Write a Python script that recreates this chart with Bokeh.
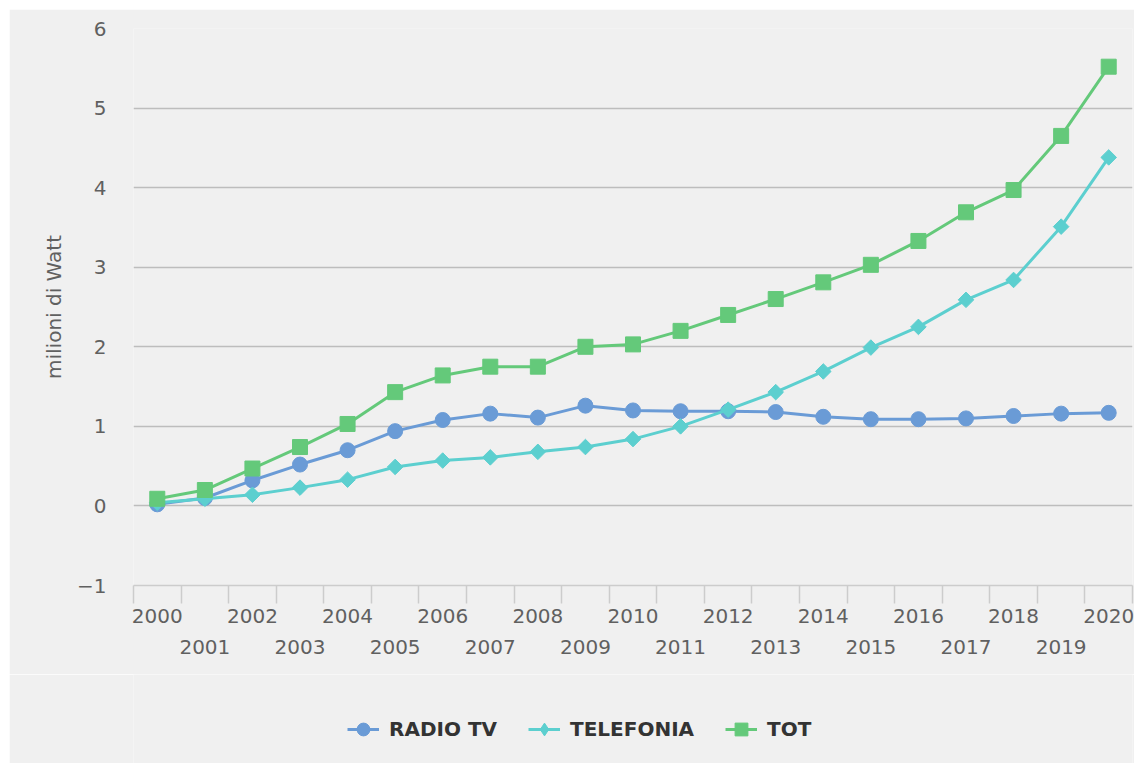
import numpy as np
from bokeh.plotting import figure
from bokeh.layouts import column
from bokeh.models import (FixedTicker, LinearAxis, Legend, LegendItem,
                          CustomJSTickFormatter, Range1d)
from bokeh.embed import file_html
from bokeh.resources import INLINE

# ---- data ----
years = [str(y) for y in range(2000, 2021)]
radio_tv = [0.02, 0.10, 0.32, 0.52, 0.70, 0.94, 1.08, 1.16, 1.11, 1.26, 1.20,
            1.19, 1.19, 1.18, 1.12, 1.09, 1.09, 1.10, 1.13, 1.16, 1.17]
telefonia = [0.04, 0.09, 0.14, 0.23, 0.33, 0.49, 0.57, 0.61, 0.68, 0.74, 0.84,
             1.00, 1.21, 1.43, 1.69, 1.99, 2.25, 2.59, 2.84, 3.51, 4.38]
tot = [0.09, 0.20, 0.47, 0.74, 1.03, 1.43, 1.64, 1.75, 1.75, 2.00, 2.03,
       2.20, 2.40, 2.60, 2.81, 3.03, 3.33, 3.69, 3.97, 4.65, 5.52]
y_ticks = [-1, 0, 1, 2, 3, 4, 5, 6]
series_names = ["RADIO TV", "TELEFONIA", "TOT"]

FONT = "DejaVu Sans"
BG = "#f0f0f0"
LABEL_COLOR = "#606060"

x = list(range(len(years)))

p = figure(width=1125, height=665, output_backend="svg", toolbar_location=None,
           x_range=Range1d(-0.5, len(years) - 0.5), y_range=Range1d(y_ticks[0], y_ticks[-1]),
           min_border_left=124, min_border_top=19, min_border_right=2,
           min_border_bottom=89,
           background_fill_color=BG, border_fill_color=BG, outline_line_color=None)
p.margin = (9, 0, 0, 9)

# ---- x axis: boundary tick marks ----
ax_a = p.xaxis[0]
ax_a.ticker = FixedTicker(ticks=[i - 0.5 for i in range(len(years) + 1)])
ax_a.formatter = CustomJSTickFormatter(code="return ''")
ax_a.major_tick_out = 18
ax_a.major_tick_in = 0
ax_a.minor_tick_line_color = None
ax_a.major_label_text_font_size = "0px"
ax_a.major_label_standoff = 0
ax_a.axis_line_color = "#cccccc"
ax_a.axis_line_width = 1.5
ax_a.major_tick_line_color = "#cccccc"
ax_a.major_tick_line_width = 1.5

year_fmt = CustomJSTickFormatter(args=dict(years=years),
                                 code="return years[Math.round(tick)]")


def label_axis(ticks, standoff):
    ax = LinearAxis(ticker=FixedTicker(ticks=ticks), formatter=year_fmt)
    ax.axis_line_color = None
    ax.major_tick_line_color = None
    ax.minor_tick_line_color = None
    ax.major_tick_out = 0
    ax.major_tick_in = 0
    ax.major_label_standoff = standoff
    ax.major_label_text_font = FONT
    ax.major_label_text_font_size = "20px"
    ax.major_label_text_color = LABEL_COLOR
    return ax


ax_b = label_axis([i for i in x if i % 2 == 0], 5)
ax_c = label_axis([i for i in x if i % 2 == 1], 14)
p.add_layout(ax_b, "below")
p.add_layout(ax_c, "below")

# ---- y axis ----
p.yaxis.ticker = FixedTicker(ticks=y_ticks)
p.yaxis.formatter = CustomJSTickFormatter(
    code="return tick < 0 ? '\u2212' + Math.abs(tick) : String(tick)")
p.yaxis.axis_line_color = None
p.yaxis.major_tick_line_color = None
p.yaxis.minor_tick_line_color = None
p.yaxis.major_label_standoff = 21
p.yaxis.major_label_text_font = FONT
p.yaxis.major_label_text_font_size = "20px"
p.yaxis.major_label_text_color = LABEL_COLOR
p.yaxis.axis_label = "milioni di Watt"
p.yaxis.axis_label_text_font = FONT
p.yaxis.axis_label_text_font_size = "20px"
p.yaxis.axis_label_text_font_style = "normal"
p.yaxis.axis_label_text_color = LABEL_COLOR
p.yaxis.axis_label_standoff = 8

p.xgrid.visible = False
p.ygrid.ticker = FixedTicker(ticks=y_ticks)
p.ygrid.grid_line_color = "#bdbdbd"
p.ygrid.grid_line_width = 1.5

# ---- series ----
styles = [("#6a9bd6", "circle", 15, 0.0, "circle"),
          ("#5ccfcf", "square", 11, np.pi / 4, "diamond"),
          ("#64c97a", "square", 15, 0.0, "square")]
all_vals = [radio_tv, telefonia, tot]
for vals, (color, marker, size, angle, _) in zip(all_vals, styles):
    p.line(x, vals, line_color=color, line_width=3)
    p.scatter(x, vals, marker=marker, size=size, angle=angle,
              fill_color=color, line_color=color)

# ---- legend strip (same series, kept out of its view; only the legend shows) ----
p2 = figure(width=1125, height=89, output_backend="svg", toolbar_location=None,
            x_range=Range1d(1000, 1001), y_range=Range1d(1000, 1001),
            min_border=0, background_fill_color=BG, background_fill_alpha=1,
            border_fill_color=BG, outline_line_color=None)
p2.margin = (0, 0, 0, 9)
p2.xaxis.visible = False
p2.yaxis.visible = False
p2.xgrid.visible = False
p2.ygrid.visible = False
items = []
for name, vals, (color, _, _, _, lmarker) in zip(series_names, all_vals, styles):
    rl = p2.line(x, vals, line_color=color, line_width=3)
    rs = p2.scatter(x, vals, marker=lmarker, size=14, fill_color=color, line_color=color)
    items.append(LegendItem(label=name, renderers=[rl, rs]))

legend = Legend(items=items, orientation="horizontal", location=(214, 17),
                label_text_font=FONT, label_text_font_size="20px",
                label_text_font_style="bold", label_text_color="#333333",
                glyph_width=32, glyph_height=34, label_standoff=10, spacing=31,
                border_line_color=None, background_fill_alpha=0, margin=0, padding=0)
p2.add_layout(legend, "center")

layout = column(p, p2, spacing=0)
open("out.html", "w").write(file_html(layout, INLINE))
